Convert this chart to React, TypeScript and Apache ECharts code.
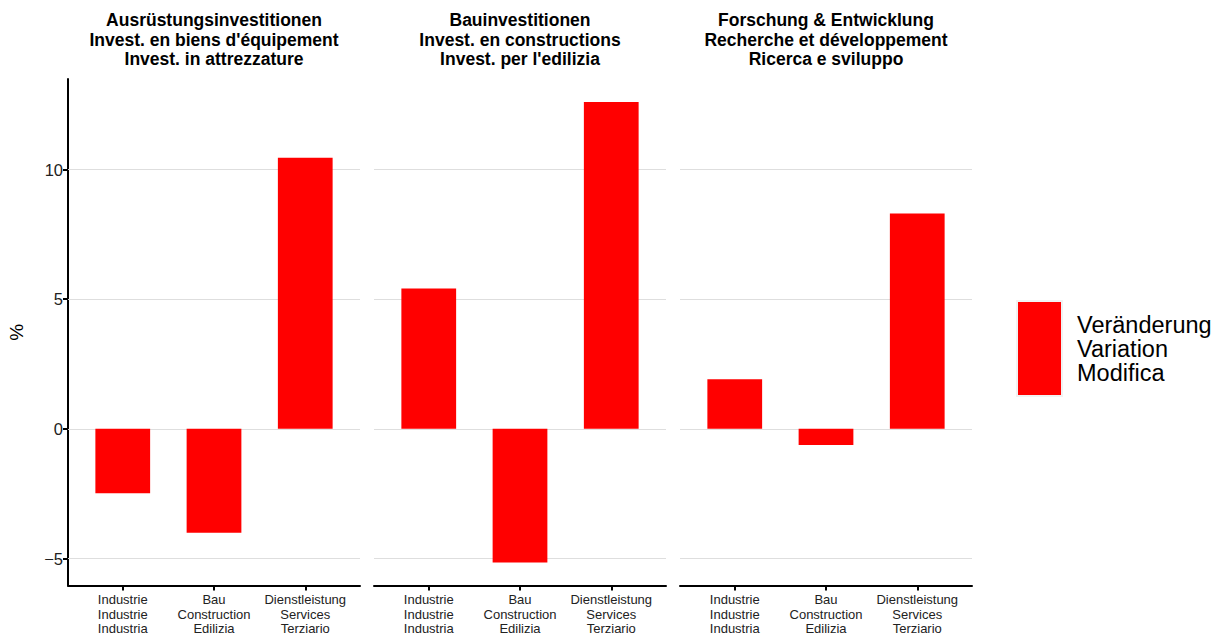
import React, { useEffect, useRef } from 'react';
import * as echarts from 'echarts';

const panelTitles = [
  "Ausrüstungsinvestitionen\nInvest. en biens d'équipement\nInvest. in attrezzature",
  "Bauinvestitionen\nInvest. en constructions\nInvest. per l'edilizia",
  'Forschung & Entwicklung\nRecherche et développement\nRicerca e sviluppo',
];
const categories = [
  'Industrie\nIndustrie\nIndustria',
  'Bau\nConstruction\nEdilizia',
  'Dienstleistung\nServices\nTerziario',
];
const categoryPositions = [1, 2, 3];
const ausruestung = [-2.48, -4.01, 10.45];
const bauinvest = [5.41, -5.15, 12.6];
const forschung = [1.91, -0.62, 8.3];
const panelValues = [ausruestung, bauinvest, forschung];
const yTicks = [-5, 0, 5, 10];
const seriesName = 'Veränderung\nVariation\nModifica';

const FONT = '"Liberation Sans", Arial, Helvetica, sans-serif';
const panelLefts = [68, 374, 680];
const panelWidth = 292;
const panelTop = 79;
const panelHeight = 506.5;

export default function App() {
  const ref = useRef<HTMLDivElement>(null);
  useEffect(() => {
    if (!ref.current) return;
    const chart = echarts.init(ref.current, undefined, { renderer: 'svg' });
    const grids = panelLefts.map((l) => ({ left: l, top: panelTop, width: panelWidth, height: panelHeight }));
    const xAxes = panelLefts.map((_, i) => ({
      type: 'value',
      gridIndex: i,
      min: 0.4,
      max: 3.6,
      axisLine: { show: true, onZero: false, lineStyle: { color: '#000', width: 2 } },
      axisTick: { show: true, customValues: categoryPositions, length: 5, lineStyle: { color: '#000', width: 2 } },
      axisLabel: {
        show: true,
        customValues: categoryPositions,
        formatter: (v: number) => categories[Math.round(v) - 1] ?? '',
        fontSize: 13,
        lineHeight: 14.5,
        color: '#222',
        margin: 7,
        fontFamily: FONT,
      },
      splitLine: { show: false },
    }));
    const yAxes = panelLefts.map((_, i) => ({
      type: 'value',
      gridIndex: i,
      min: -6.04,
      max: 13.49,
      name: i === 0 ? '%' : '',
      nameLocation: 'middle',
      nameGap: 42,
      nameTextStyle: { fontSize: 19, color: '#000', fontFamily: FONT },
      axisLine: { show: i === 0, onZero: false, lineStyle: { color: '#000', width: 2 } },
      axisTick: { show: i === 0, customValues: yTicks, length: 5, lineStyle: { color: '#000', width: 2 } },
      axisLabel: {
        show: i === 0,
        customValues: yTicks,
        formatter: (v: number) => String(v).replace('-', '\u2212'),
        fontSize: 16.5,
        color: '#222',
        margin: 5,
        fontFamily: FONT,
      },
      splitLine: { show: false },
    }));
    const series = panelValues.map((vals, i) => ({
      type: 'bar',
      name: seriesName,
      xAxisIndex: i,
      yAxisIndex: i,
      barWidth: 54.75,
      z: 2,
      itemStyle: { color: '#ff0000' },
      data: vals.map((v, k) => [categoryPositions[k], v]),
      markLine: {
        silent: true,
        z: 1,
        symbol: ['none', 'none'],
        label: { show: false },
        emphasis: { disabled: true },
        lineStyle: { color: '#dedede', type: 'solid', width: 1.2 },
        data: yTicks.map((t) => ({ yAxis: t })),
      },
    }));
    const graphic: any[] = panelTitles.map((t, i) => ({
      type: 'text',
      x: panelLefts[i] + panelWidth / 2,
      y: 10.5,
      style: {
        text: t,
        textAlign: 'center',
        textVerticalAlign: 'top',
        font: `bold 17.5px ${FONT}`,
        lineHeight: 19.5,
        fill: '#000',
      },
    }));
    graphic.push(
      { type: 'rect', shape: { x: 1016, y: 300, width: 47, height: 97 }, style: { fill: '#f2f2f2' } },
      { type: 'rect', shape: { x: 1018, y: 302, width: 43, height: 93 }, style: { fill: '#ff0000' } },
      {
        type: 'text',
        x: 1077,
        y: 349,
        style: {
          text: seriesName,
          textAlign: 'left',
          textVerticalAlign: 'middle',
          font: `23.5px ${FONT}`,
          lineHeight: 24,
          fill: '#000',
        },
      }
    );
    chart.setOption({
      animation: false,
      backgroundColor: '#fff',
      grid: grids,
      xAxis: xAxes,
      yAxis: yAxes,
      series,
      graphic,
    });
    return () => chart.dispose();
  }, []);
  return <div ref={ref} style={{ position: 'absolute', left: 0, top: 0, width: 1224, height: 644 }} />;
}
